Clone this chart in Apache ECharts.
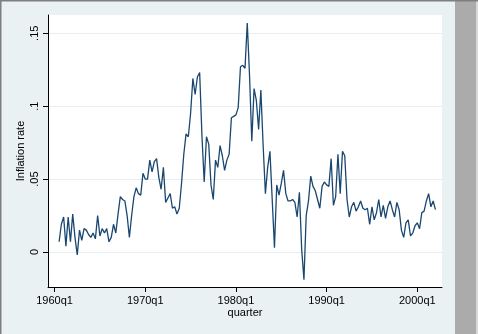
<!DOCTYPE html>
<html>
<head>
<meta charset="utf-8">
<script src="https://cdn.jsdelivr.net/npm/echarts@6/dist/echarts.min.js"></script>
<style>
  html, body { margin: 0; padding: 0; background: #e9f1f2; }
  #chart { width: 478px; height: 334px; }
</style>
</head>
<body>
<div id="chart"></div>
<script>
// Quarterly inflation rate; quarter index 0 = 1960q1, series starts at 1960q3
const firstQuarter = 2;
const inflation = [
  0.007, 0.019,
  0.024, 0.004, 0.024, 0.007,
  0.026, 0.010, -0.002, 0.015,
  0.008, 0.016, 0.015, 0.012,
  0.010, 0.013, 0.009, 0.025,
  0.011, 0.016, 0.013, 0.016,
  0.007, 0.010, 0.019, 0.013,
  0.026, 0.038, 0.036, 0.035,
  0.025, 0.010, 0.025, 0.038,
  0.044, 0.040, 0.039, 0.054,
  0.050, 0.050, 0.063, 0.055,
  0.062, 0.064, 0.051, 0.043,
  0.058, 0.034, 0.037, 0.040,
  0.030, 0.031, 0.026, 0.030,
  0.047, 0.067, 0.081, 0.079,
  0.095, 0.119, 0.108, 0.120,
  0.123, 0.080, 0.048, 0.079,
  0.074, 0.046, 0.036, 0.063,
  0.058, 0.073, 0.066, 0.056,
  0.063, 0.067, 0.092, 0.093,
  0.094, 0.099, 0.127, 0.128,
  0.126, 0.157, 0.121, 0.076,
  0.112, 0.104, 0.084, 0.111,
  0.073, 0.040, 0.058, 0.069,
  0.036, 0.003, 0.046, 0.039,
  0.047, 0.056, 0.040, 0.035,
  0.035, 0.036, 0.034, 0.024,
  0.041, 0.002, -0.019, 0.025,
  0.035, 0.052, 0.045, 0.042,
  0.036, 0.030, 0.045, 0.048,
  0.046, 0.045, 0.064, 0.032,
  0.038, 0.067, 0.040, 0.069,
  0.066, 0.036, 0.024, 0.031,
  0.034, 0.028, 0.031, 0.035,
  0.030, 0.029, 0.030, 0.019,
  0.031, 0.022, 0.027, 0.036,
  0.024, 0.032, 0.023, 0.031,
  0.035, 0.029, 0.024, 0.034,
  0.029, 0.015, 0.010, 0.020,
  0.022, 0.011, 0.013, 0.018,
  0.020, 0.016, 0.027, 0.028,
  0.035, 0.040, 0.031, 0.035,
  0.029
];
const xTickQuarters = [0, 40, 80, 120, 160];
const xTickLabels = ['1960q1', '1970q1', '1980q1', '1990q1', '2000q1'];
const yTickValues = [0, 0.05, 0.1, 0.15];
const yTickLabels = ['0', '.05', '.1', '.15'];

const points = inflation.map((v, k) => [firstQuarter + k, v]);
const font = 'Arial, "Liberation Sans", sans-serif';

const chart = echarts.init(document.getElementById('chart'), null, { renderer: 'canvas' });
chart.setOption({
  backgroundColor: '#e9f1f2',
  animation: false,
  grid: { left: 48, top: 15, right: 36, bottom: 47, show: true, backgroundColor: '#ffffff', borderWidth: 0 },
  xAxis: {
    type: 'value',
    min: -2.9,
    max: 170.9,
    name: 'quarter',
    nameLocation: 'middle',
    nameGap: 20,
    nameMoveOverlap: false,
    nameTextStyle: { color: '#000', fontSize: 11, fontFamily: font },
    axisLine: { show: true, onZero: false, lineStyle: { color: '#000', width: 1 } },
    axisTick: { show: true, length: 5, customValues: xTickQuarters, lineStyle: { color: '#000' } },
    axisLabel: {
      customValues: xTickQuarters,
      color: '#000', fontSize: 11, fontFamily: font, margin: 8,
      formatter: v => xTickLabels[xTickQuarters.indexOf(v)] || ''
    },
    splitLine: { show: false }
  },
  yAxis: {
    type: 'value',
    min: -0.024,
    max: 0.1625,
    name: 'Inflation rate',
    nameLocation: 'middle',
    nameGap: 22,
    nameRotate: 90,
    nameMoveOverlap: false,
    nameTextStyle: { color: '#000', fontSize: 11, fontFamily: font },
    axisLine: { show: true, onZero: false, lineStyle: { color: '#000', width: 1 } },
    axisTick: { show: true, length: 5, customValues: yTickValues, lineStyle: { color: '#000' } },
    axisLabel: {
      customValues: yTickValues,
      rotate: 90,
      color: '#000', fontSize: 11, fontFamily: font, margin: 8,
      formatter: v => yTickLabels[yTickValues.indexOf(v)] || ''
    },
    splitLine: { show: true, lineStyle: { color: '#e6eef0', width: 1 } }
  },
  series: [{
    type: 'line',
    data: points,
    showSymbol: false,
    lineStyle: { color: '#1a476f', width: 1.3 },
    z: 3
  }],
  graphic: [
    { type: 'rect', left: 455, top: 0, shape: { width: 23, height: 334 }, style: { fill: '#ababab' }, silent: true },
    { type: 'rect', left: 476, top: 0, shape: { width: 2, height: 334 }, style: { fill: '#d8d8d8' }, silent: true },
    { type: 'rect', left: 0, top: 0, shape: { width: 478, height: 1.5 }, style: { fill: '#7f7f7f' }, silent: true },
    { type: 'rect', left: 0, top: 0, shape: { width: 1.5, height: 334 }, style: { fill: '#7f7f7f' }, silent: true }
  ]
});
</script>
</body>
</html>
